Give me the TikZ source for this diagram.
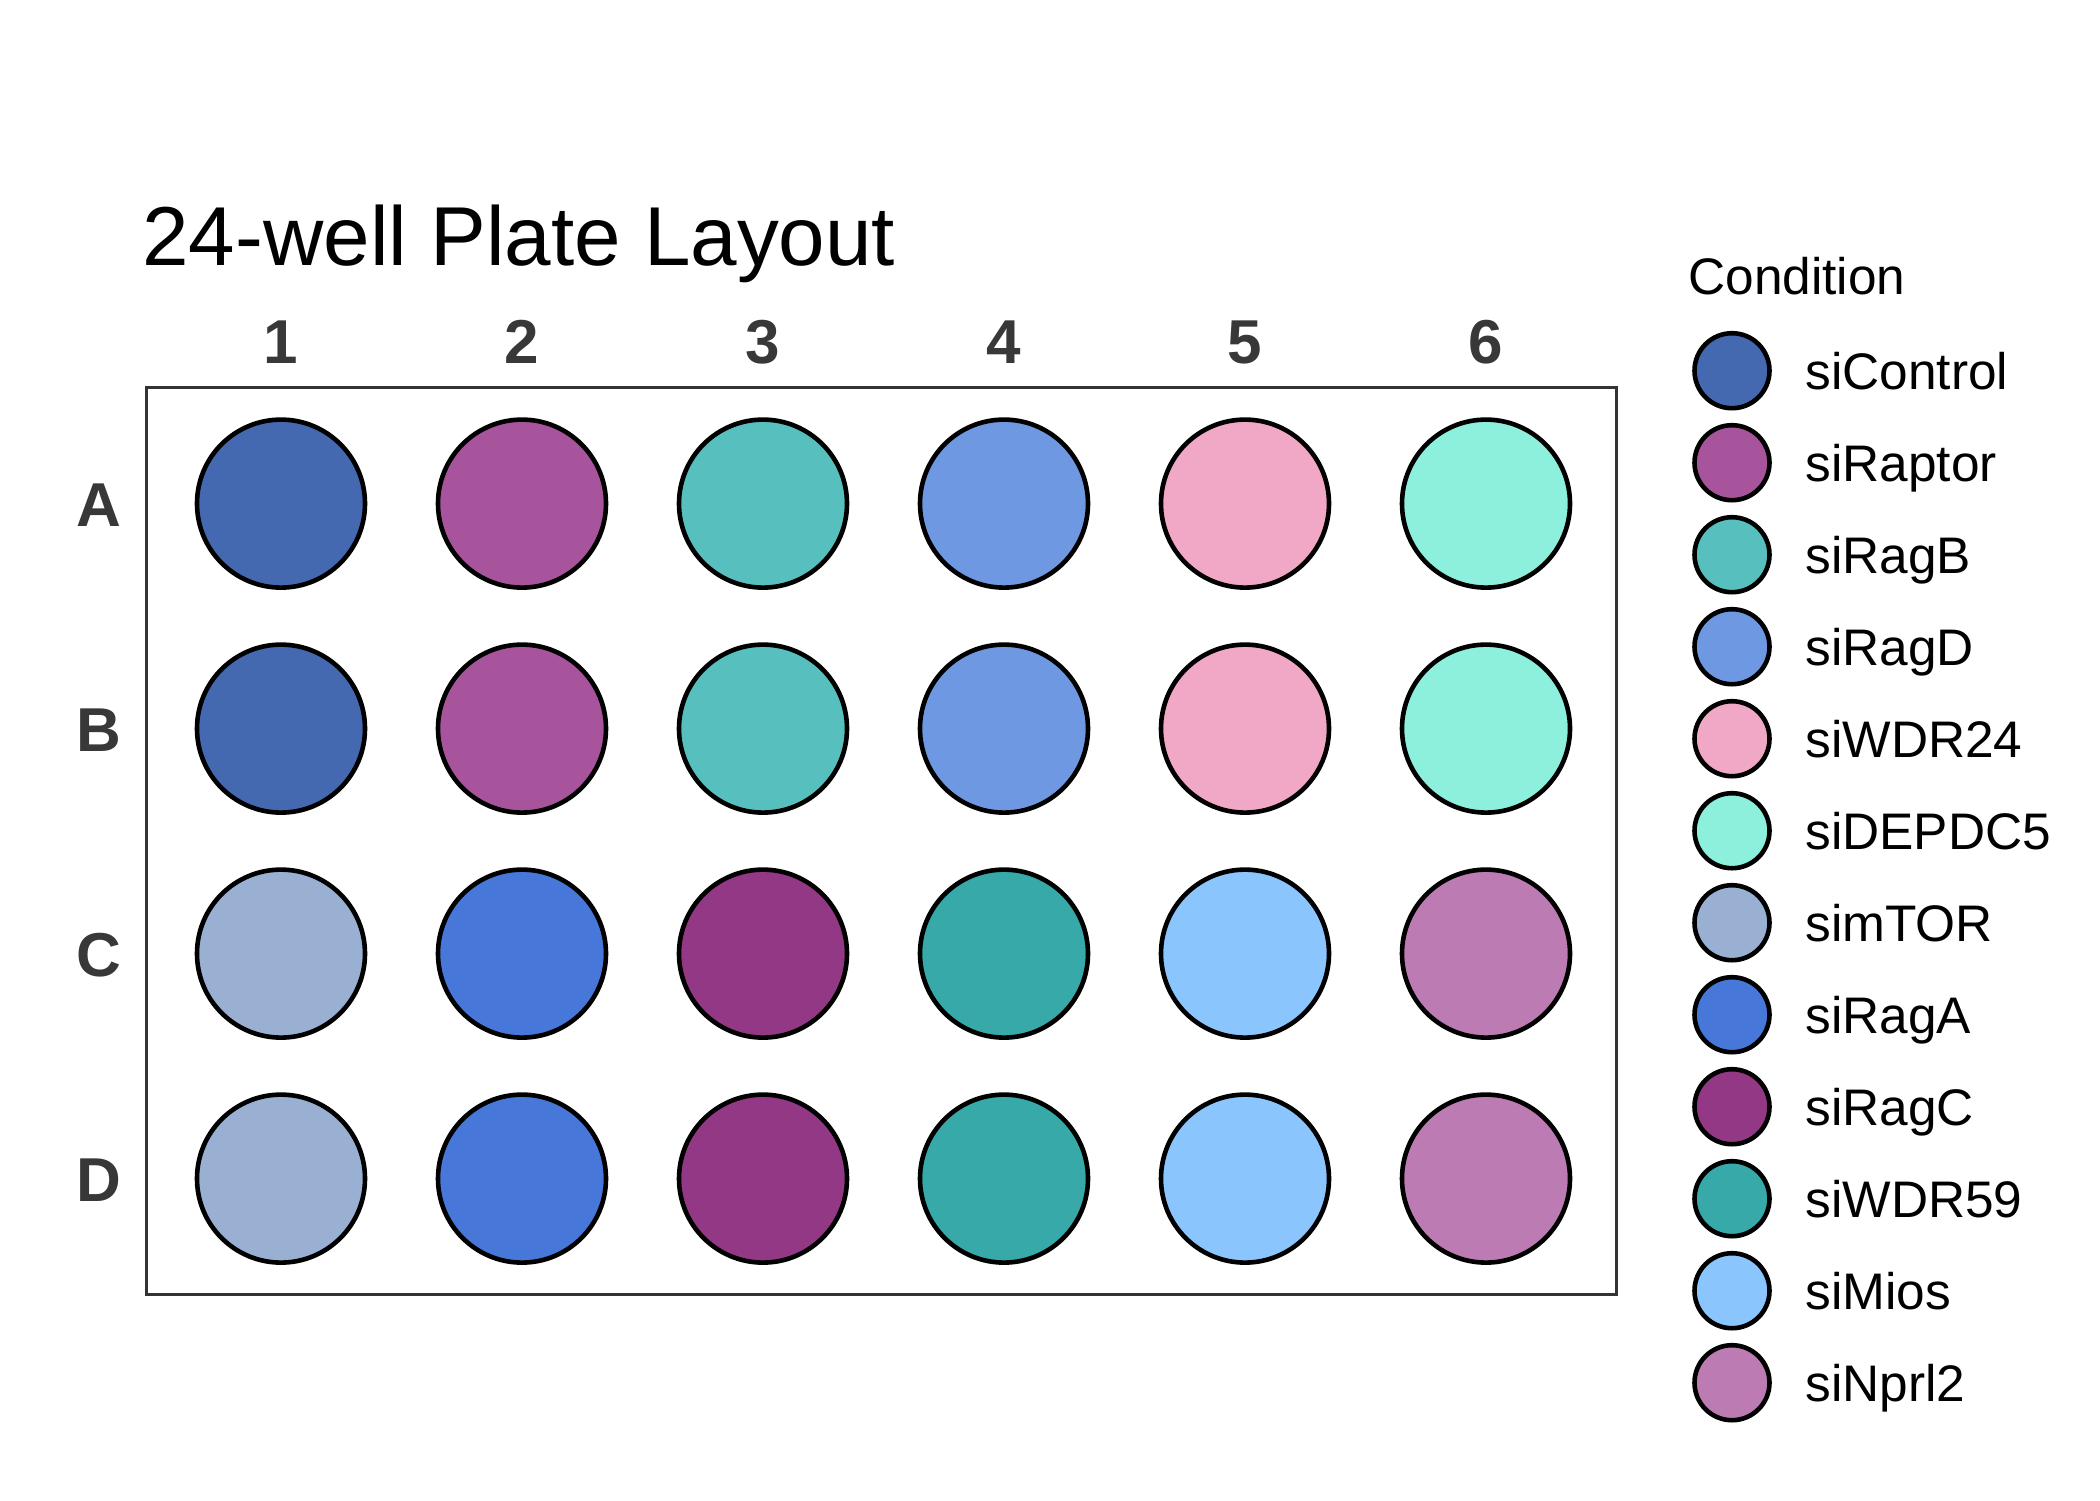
\documentclass[tikz,border=0pt]{standalone}
\usepackage{fontspec}
\setmainfont{Liberation Sans}
\definecolor{cA}{HTML}{4469B1}
\definecolor{cB}{HTML}{A8549C}
\definecolor{cC}{HTML}{57C0BE}
\definecolor{cD}{HTML}{6E98E1}
\definecolor{cE}{HTML}{F1A8C6}
\definecolor{cF}{HTML}{8DF0DD}
\definecolor{cG}{HTML}{9AB0D3}
\definecolor{cH}{HTML}{4777D8}
\definecolor{cI}{HTML}{933885}
\definecolor{cJ}{HTML}{36A9A8}
\definecolor{cK}{HTML}{8AC5FE}
\definecolor{cL}{HTML}{BC7CB3}
\definecolor{labgray}{HTML}{383838}
\definecolor{framegray}{HTML}{333333}
\tikzset{
  well/.style={circle, draw=black, line width=2.3pt, minimum size=84pt, inner sep=0pt},
  legwell/.style={circle, draw=black, line width=2.3pt, minimum size=37.5pt, inner sep=0pt},
  axlab/.style={font=\fontsize{31}{31}\selectfont\bfseries, text=labgray, inner sep=0pt, anchor=base},
  leglab/.style={font=\fontsize{25.7}{26}\selectfont, text=black, inner sep=0pt, anchor=base west},
}
\begin{document}
\begin{tikzpicture}[x=0.5pt, y=-0.5pt]
\useasboundingbox (0,0) rectangle (2100,1500);
\node[font=\fontsize{41.8}{42}\selectfont, inner sep=0pt, anchor=base west] (title) at (142,265) {24-well Plate Layout};
\node[draw=framegray, line width=1.7pt, minimum width=735pt, minimum height=453.5pt, inner sep=0pt, anchor=north west] (plate) at (145,386) {};
% column labels
\foreach \c [count=\i from 0] in {1,...,6} {
  \node[axlab] (col\c) at (281+241*\i, 363) {\c};
}
% row labels
\foreach \r [count=\j from 0] in {A,B,C,D} {
  \node[axlab] (row\r) at (99, 503.6+225*\j+22.5) {\r};
}
% wells
\foreach \r/\j in {A/0,B/1} {
  \foreach \col/\c [count=\i from 0] in {cA/1,cB/2,cC/3,cD/4,cE/5,cF/6} {
    \node[well, fill=\col] (w\r\c) at (281+241*\i, 503.6+225*\j) {};
  }
}
\foreach \r/\j in {C/2,D/3} {
  \foreach \col/\c [count=\i from 0] in {cG/1,cH/2,cI/3,cJ/4,cK/5,cL/6} {
    \node[well, fill=\col] (w\r\c) at (281+241*\i, 503.6+225*\j) {};
  }
}
% legend
\node[leglab] (legtitle) at (1688,294) {Condition};
\foreach \col/\lab [count=\k from 0] in {cA/siControl,cB/siRaptor,cC/siRagB,cD/siRagD,cE/siWDR24,cF/siDEPDC5,cG/simTOR,cH/siRagA,cI/siRagC,cJ/siWDR59,cK/siMios,cL/siNprl2} {
  \node[legwell, fill=\col] (lw\k) at (1732, 370.7+92*\k) {};
  \node[leglab] (ll\k) at (1805, 370.7+92*\k+18.4) {\lab};
}
\end{tikzpicture}
\end{document}
